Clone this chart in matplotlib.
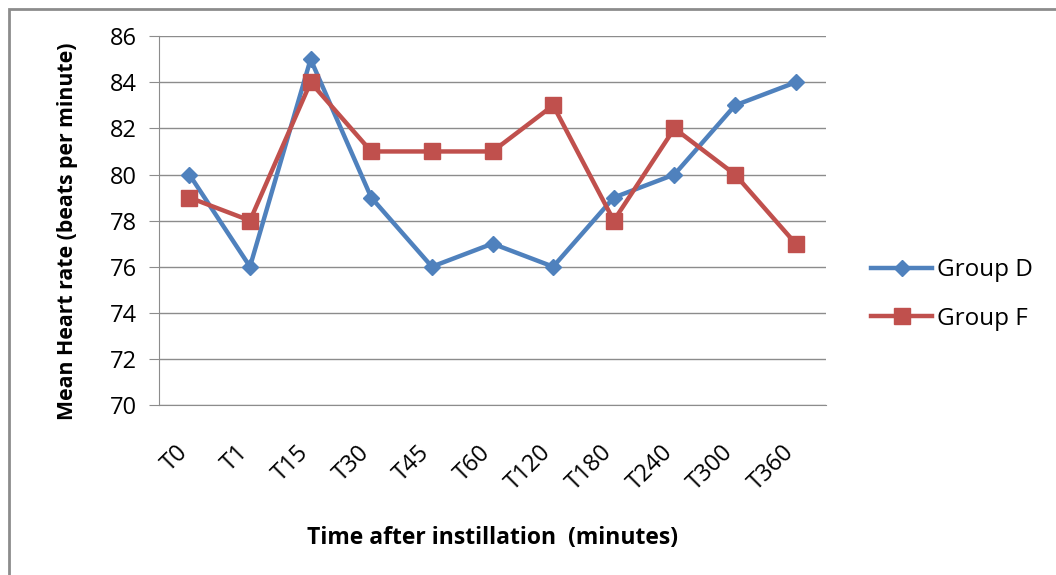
import numpy as np
import matplotlib.pyplot as plt
from matplotlib.patches import Rectangle
from matplotlib.transforms import ScaledTranslation

times = ["T0", "T1", "T15", "T30", "T45", "T60", "T120", "T180", "T240", "T300", "T360"]
group_d = [80, 76, 85, 79, 76, 77, 76, 79, 80, 83, 84]
group_f = [79, 78, 84, 81, 81, 81, 83, 78, 82, 80, 77]

plt.rcParams['font.family'] = ['Open Sans', 'DejaVu Sans']

fig = plt.figure(figsize=(10.56, 5.75), dpi=100)
ax = fig.add_axes([0.1506, 0.2957, 0.6316, 0.6413])

x = np.arange(len(times))
ax.plot(x, group_d, color="#4F81BD", lw=3.2, marker="D", ms=8.5, label="Group D", zorder=3)
ax.plot(x, group_f, color="#C0504D", lw=3.2, marker="s", ms=11, label="Group F", zorder=3)

ax.set_xlim(-0.5, len(times) - 0.5)
ax.set_ylim(70, 86)
ax.set_yticks(np.arange(70, 87, 2))
ax.grid(axis="y", color="#8c8c8c", lw=1)
ax.set_axisbelow(True)
for s in ["top", "right"]:
    ax.spines[s].set_visible(False)
ax.spines["left"].set_color("#8c8c8c")
ax.spines["bottom"].set_color("#8c8c8c")

ax.set_xticks(x)
ax.set_xticklabels(times, rotation=45, ha="right", va="top", rotation_mode="anchor")
ax.tick_params(axis="x", length=0, labelsize=17, pad=20)
ax.tick_params(axis="y", length=7, color="#8c8c8c", labelsize=17, pad=9)
# nudge the slanted labels so they end just left of each category
shift = ScaledTranslation(-14 / 100, -8 / 100, fig.dpi_scale_trans)
for lbl in ax.get_xticklabels():
    lbl.set_transform(lbl.get_transform() + shift)

ax.set_ylabel("Mean Heart rate (beats per minute)", fontsize=15.3, fontweight="bold")
ax.yaxis.set_label_coords(-0.121, 0.47)
ax.set_xlabel("Time after instillation  (minutes)", fontsize=16.5, fontweight="bold", labelpad=22)

ax.legend(loc="center left", bbox_to_anchor=(1.035, 0.30), frameon=False, fontsize=17.5,
          handlelength=2.5, handletextpad=0.2, labelspacing=1.0)

# outer chart border
fig.patches.append(Rectangle((9 / 1056, -0.05), 1.1, 1 - 9 / 575 + 0.05, transform=fig.transFigure,
                             fill=False, ec="#8c8c8c", lw=2, zorder=0))

fig.savefig("out.png", dpi=100)
